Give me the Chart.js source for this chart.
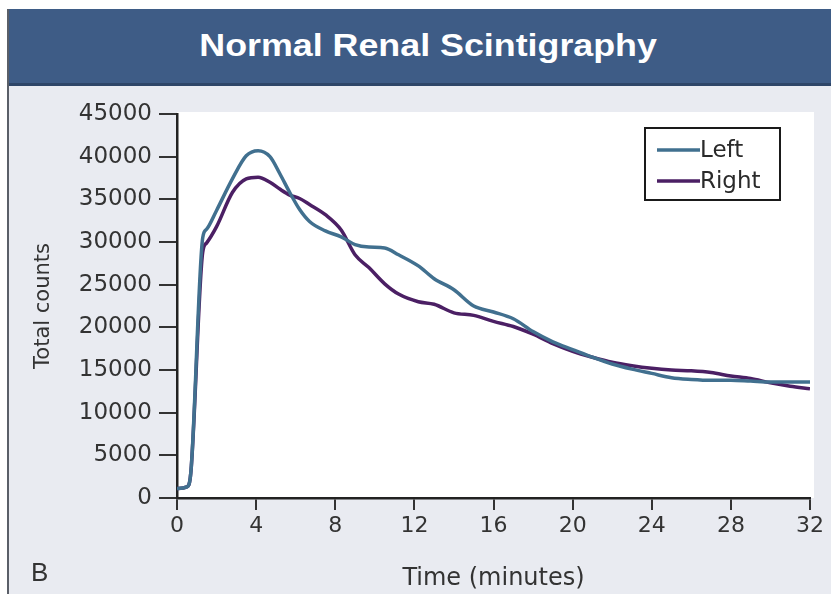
<!DOCTYPE html>
<html>
<head>
<meta charset="utf-8">
<script src="https://cdn.jsdelivr.net/npm/chart.js@4.4.1/dist/chart.umd.min.js"></script>
<style>
  html, body { margin: 0; padding: 0; background: #ffffff; }
  #frame {
    position: absolute; left: 7px; top: 9px; width: 824px; height: 585px;
    background: #e9ebf1; border-left: 2px solid #5a5f68;
  }
  #title {
    height: 74px; background: #3e5c86;
    border-bottom: 3px solid #2e4668;
    color: #ffffff; text-align: center;
    font: bold 31px "Liberation Sans", Arial, sans-serif;
    line-height: 74px;
  }
  #title span { display: inline-block; transform: scaleX(1.155); margin-left: 14px; }
  #panel {
    position: absolute; left: 22px; top: 548px;
    font: 26px "Liberation Sans", Arial, sans-serif; color: #333;
  }
  #wrap { position: absolute; left: 1px; top: 77px; width: 823px; height: 508px; }
</style>
</head>
<body>
<div id="frame">
  <div id="title"><span>Normal Renal Scintigraphy</span></div>
  <div id="wrap"><canvas id="renal-chart"></canvas></div>
  <div id="panel">B</div>
</div>
<script>
const times = [0, 0.5, 0.7, 1.3, 1.5, 2, 2.8, 3.5, 4.1, 4.7, 5.2, 5.7, 6.2, 6.7, 7.5, 8.3, 9, 9.7,
    10.5, 11.2, 12.2, 13, 14, 15, 16, 17, 18, 19, 20, 21, 22, 23, 24, 25, 26, 27, 28, 29, 30, 31, 32];
const leftCounts = [1100, 1300, 3000, 30500, 31500, 33700, 37400, 40100, 40700, 40000, 38000, 35800, 33800, 32400,
    31300, 30600, 29700, 29400, 29300, 28500, 27200, 25700, 24400, 22500, 21800, 21000, 19500, 18300,
    17400, 16500, 15700, 15100, 14600, 14100, 13900, 13800, 13800, 13700, 13600, 13600, 13600];
const rightCounts = [1100, 1300, 3000, 28800, 29900, 31800, 35800, 37400, 37600, 37000, 36200, 35500, 35100, 34400,
    33200, 31400, 28500, 27000, 25100, 23900, 23000, 22700, 21700, 21400, 20700, 20100, 19200, 18100,
    17200, 16500, 15900, 15500, 15200, 15000, 14900, 14700, 14300, 14000, 13500, 13100, 12800];
const xTicks = [0, 4, 8, 12, 16, 20, 24, 28, 32];
const yTicks = [0, 5000, 10000, 15000, 20000, 25000, 30000, 35000, 40000, 45000];

const font = "'DejaVu Sans', Verdana, sans-serif";

function toPoints(ys) {
    return times.map((t, i) => ({ x: t, y: ys[i] }));
}

// white plot background
const plotBg = {
    id: 'plotBg',
    beforeDraw(chart) {
        const a = chart.chartArea, ctx = chart.ctx;
        ctx.save();
        ctx.fillStyle = '#ffffff';
        ctx.fillRect(a.left, a.top - 2, a.right - a.left + 4, a.bottom - a.top + 2);
        ctx.restore();
    }
};

// boxed legend in the top right corner
const boxLegend = {
    id: 'boxLegend',
    afterDraw(chart) {
        const a = chart.chartArea, ctx = chart.ctx;
        const w = 135, h = 72;
        const x0 = a.right - 30 - w, y0 = a.top + 14;
        ctx.save();
        ctx.fillStyle = '#ffffff';
        ctx.fillRect(x0, y0, w, h);
        ctx.strokeStyle = '#1a1a1a';
        ctx.lineWidth = 2;
        ctx.strokeRect(x0, y0, w, h);
        ctx.font = '23px ' + font;
        ctx.textBaseline = 'middle';
        chart.data.datasets.forEach((ds, i) => {
            const y = y0 + 22 + i * 31;
            ctx.strokeStyle = ds.borderColor;
            ctx.lineWidth = 3.5;
            ctx.beginPath();
            ctx.moveTo(x0 + 12, y);
            ctx.lineTo(x0 + 55, y);
            ctx.stroke();
            ctx.fillStyle = '#2a2a2a';
            ctx.fillText(ds.label, x0 + 55, y + 1);
        });
        ctx.restore();
    }
};

const ctx = document.getElementById('renal-chart').getContext('2d');
const renalChart = new Chart(ctx, {
    type: 'line',
    data: {
        datasets: [{
            label: 'Left',
            data: toPoints(leftCounts),
            borderColor: '#41708f',
            borderWidth: 3.5,
            pointRadius: 0,
            cubicInterpolationMode: 'monotone',
            fill: false
        }, {
            label: 'Right',
            data: toPoints(rightCounts),
            borderColor: '#4b1f64',
            borderWidth: 3.5,
            pointRadius: 0,
            cubicInterpolationMode: 'monotone',
            fill: false
        }]
    },
    options: {
        responsive: true,
        maintainAspectRatio: false,
        animation: false,
        layout: { padding: { left: 0, top: 28, right: 23, bottom: 0 } },
        plugins: {
            legend: { display: false },
            tooltip: { enabled: false }
        },
        scales: {
            x: {
                type: 'linear',
                min: 0,
                max: 32,
                afterBuildTicks: scale => { scale.ticks = xTicks.map(v => ({ value: v })); },
                afterFit: scale => { scale.height = 96; },
                ticks: { color: '#333', font: { family: font, size: 22 }, padding: 3, maxRotation: 0 },
                grid: { drawOnChartArea: false, tickLength: 12, color: '#333', lineWidth: 2 },
                border: { color: '#222', width: 2.5 },
                title: {
                    display: true, text: 'Time (minutes)', color: '#333',
                    font: { family: font, size: 24 }, padding: { top: 0, bottom: 1 }
                }
            },
            y: {
                min: 0,
                max: 45000,
                afterBuildTicks: scale => { scale.ticks = yTicks.map(v => ({ value: v })); },
                afterFit: scale => { scale.width = 167; },
                ticks: { color: '#333', font: { family: font, size: 23 }, padding: 7, callback: v => String(v) },
                grid: { drawOnChartArea: false, tickLength: 18, color: '#333', lineWidth: 2 },
                border: { color: '#222', width: 2.5 },
                title: {
                    display: true, text: 'Total counts', color: '#333',
                    font: { family: font, size: 21 }, padding: { top: 21, bottom: 0 }
                }
            }
        }
    },
    plugins: [plotBg, boxLegend]
});
</script>
</body>
</html>
